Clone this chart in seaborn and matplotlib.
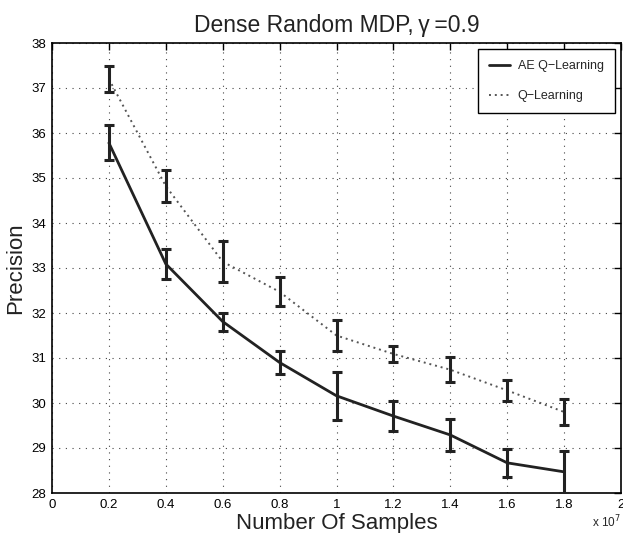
import pandas as pd
import matplotlib
matplotlib.use("Agg")
import matplotlib.pyplot as plt
import seaborn as sns

# ----------------------------------------
# DATA
# ----------------------------------------
samples = [2e6, 4e6, 6e6, 8e6, 1e7, 1.2e7, 1.4e7, 1.6e7, 1.8e7]

ae_mean = [35.78, 33.09, 31.81, 30.90, 30.16, 29.71, 29.29, 28.67, 28.47]
ae_err = [0.39, 0.33, 0.20, 0.26, 0.53, 0.34, 0.35, 0.31, 0.47]

q_mean = [37.20, 34.82, 33.14, 32.47, 31.50, 31.09, 30.74, 30.28, 29.80]
q_err = [0.28, 0.36, 0.46, 0.32, 0.35, 0.17, 0.28, 0.23, 0.29]

x_ticks = [0, 2e6, 4e6, 6e6, 8e6, 1e7, 1.2e7, 1.4e7, 1.6e7, 1.8e7, 2e7]
x_tick_labels = ["0", "0.2", "0.4", "0.6", "0.8", "1", "1.2", "1.4", "1.6", "1.8", "2"]
y_ticks = [28, 29, 30, 31, 32, 33, 34, 35, 36, 37, 38]

df = pd.DataFrame({
    "Samples": samples + samples,
    "Precision": ae_mean + q_mean,
    "Method": ["AE Q\u2212Learning"] * len(samples) + ["Q\u2212Learning"] * len(samples),
})

# ----------------------------------------
# STYLE
# ----------------------------------------
sns.set_style("white")
plt.rcParams["font.family"] = ["Liberation Sans", "DejaVu Sans"]

fig = plt.figure(figsize=(6.23, 5.33), dpi=100)
ax = fig.add_axes([52 / 623, 40 / 533, 569 / 623, 450 / 533])

# ----------------------------------------
# LINES
# ----------------------------------------
ae_df = df[df["Method"] == "AE Q\u2212Learning"]
q_df = df[df["Method"] == "Q\u2212Learning"]

sns.lineplot(data=ae_df, x="Samples", y="Precision", ax=ax, color="#222222",
             linewidth=2.0, label="AE Q\u2212Learning", zorder=3)
sns.lineplot(data=q_df, x="Samples", y="Precision", ax=ax, color="#555555",
             linewidth=1.4, linestyle=(0, (1, 2)), label="Q\u2212Learning", zorder=3)

# error bars
ax.errorbar(samples, ae_mean, yerr=ae_err, fmt="none", ecolor="#222222",
            elinewidth=2.2, capsize=3.4, capthick=2.2, zorder=4, clip_on=True)
ax.errorbar(samples, q_mean, yerr=q_err, fmt="none", ecolor="#222222",
            elinewidth=2.2, capsize=3.4, capthick=2.2, zorder=4, clip_on=True)

# ----------------------------------------
# AXES
# ----------------------------------------
ax.set_xlim(0, 2e7)
ax.set_ylim(28, 38)
ax.set_xticks(x_ticks)
ax.set_xticklabels(x_tick_labels)
ax.set_yticks(y_ticks)
ax.tick_params(direction="in", length=5, width=1, top=True, right=True,
               labelsize=9.5, pad=4, colors="black")

ax.grid(True, color="#444444", linestyle=(0, (1, 5)), linewidth=0.8)
for s in ax.spines.values():
    s.set_visible(True)
    s.set_color("black")
    s.set_linewidth(1.2)

ax.set_title("Dense Random MDP,\u2009\u03b3\u2009=0.9", fontsize=16.5, pad=8, color="#222222")
ax.set_xlabel("Number Of Samples", fontsize=16, labelpad=2, color="#222222")
ax.set_ylabel("Precision", fontsize=16, labelpad=4, color="#222222")
ax.text(1.0, -0.046, "x 10$^{7}$", transform=ax.transAxes, ha="right", va="top",
        fontsize=8.5)

leg = ax.legend(loc="upper right", fontsize=9, frameon=True, fancybox=False,
                edgecolor="black", framealpha=1, borderaxespad=0.5,
                handlelength=1.7, handletextpad=0.6, labelspacing=1.4,
                borderpad=0.9)
leg.get_frame().set_linewidth(1.0)

plt.savefig("out.png", dpi=100)
